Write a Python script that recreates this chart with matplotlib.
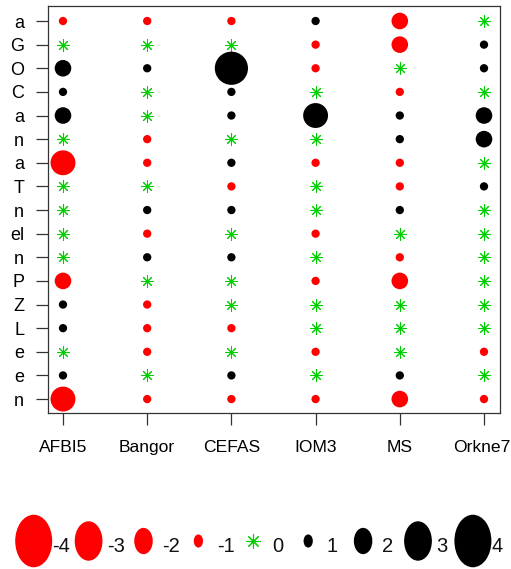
import numpy as np
import matplotlib
matplotlib.use("Agg")
import matplotlib.pyplot as plt
from matplotlib.patches import Ellipse

plt.rcParams['font.family'] = ['Liberation Sans', 'DejaVu Sans']

sites = ["AFBI5", "Bangor", "CEFAS", "IOM3", "MS", "Orkne7"]
row_labels = ["a", "G", "O", "C", "a", "n", "a", "T", "n", "el", "n",
              "P", "Z", "L", "e", "e", "n"]
afbi5 = [-1, 0, 2, 1, 2, 0, -3, 0, 0, 0, 0, -2, 1, 1, 0, 1, -3]
bangor = [-1, 0, 1, 0, 0, -1, -1, 0, 1, -1, 1, 0, -1, -1, -1, 0, -1]
cefas = [-1, 0, 4, 1, 1, 0, 1, -1, 1, 0, 1, 0, 0, -1, 0, 1, -1]
iom3 = [1, -1, -1, 0, 3, 0, -1, 0, 0, -1, 0, -1, 0, 0, -1, 0, -1]
ms = [-2, -2, 0, -1, 1, 1, -1, -1, 1, 0, -1, -2, 0, 0, 0, 1, -2]
orkne7 = [0, 1, 1, 0, 2, 2, 0, 1, 0, 0, 0, 0, 0, 0, -1, 0, -1]
legend_values = [-4, -3, -2, -1, 0, 1, 2, 3, 4]

columns = [afbi5, bangor, cefas, iom3, ms, orkne7]
GREEN = "#00CD00"
DPI = 100
W, H = 511, 569

fig = plt.figure(figsize=(W / DPI, H / DPI), dpi=DPI)
ax = fig.add_axes([48 / W, 1 - 413 / H, (500 - 48) / W, (413 - 6) / H])

px2pt = 72 / DPI
for ci, col in enumerate(columns):
    x = ci + 1
    for ri, v in enumerate(col):
        y = ri + 1
        if v == 0:
            ax.plot(x, y, marker=(8, 2, 0), color=GREEN, markersize=12 * px2pt,
                    mew=0.75, linestyle='none')
        else:
            d = 8.3 * abs(v) * px2pt
            ax.scatter([x], [y], s=d ** 2, color='red' if v < 0 else 'black',
                       edgecolors='none', zorder=3)

ax.set_xlim(0.822, 6.19)
ax.set_ylim(17.59, 0.365)
ax.set_xticks(range(1, len(sites) + 1))
ax.set_xticklabels(sites, fontsize=12.6)
ax.get_xticklabels()[-1].set_horizontalalignment('right')
ax.set_yticks(range(1, len(row_labels) + 1))
ax.set_yticklabels(row_labels, fontsize=13)
ax.tick_params(axis='both', direction='out', length=8.6, width=0.9, color='#333333')
ax.tick_params(axis='x', pad=11)
ax.tick_params(axis='y', pad=8.6)
for sp in ax.spines.values():
    sp.set_color('#333333')
    sp.set_linewidth(0.9)
# keep the last site label inside the canvas (right edge at the figure edge)
import matplotlib.transforms as mtransforms
lbl = ax.get_xticklabels()[-1]
lbl.set_transform(lbl.get_transform() + mtransforms.ScaledTranslation(26.5 / DPI, 0, fig.dpi_scale_trans))

# legend
lax = fig.add_axes([0, 0, 1, 1], zorder=-1)
lax.set_xlim(0, W)
lax.set_ylim(H, 0)
lax.axis('off')
x0, dx = 33.7, 54.9
yc, yt = 541, 546
for i, v in enumerate(legend_values):
    xc = x0 + dx * i
    if v == 0:
        lax.plot(xc, yc, marker=(8, 2, 0), color=GREEN, markersize=14 * px2pt,
                 mew=0.8, linestyle='none')
    else:
        w = 9.25 * abs(v)
        lax.add_patch(Ellipse((xc, yc), w, w * 1.42,
                              color='red' if v < 0 else 'black', lw=0))
    lax.text(xc + 18.5, yt, str(v), fontsize=14.5, ha='left', va='center', color='#111111')

fig.savefig("out.png", dpi=DPI)
